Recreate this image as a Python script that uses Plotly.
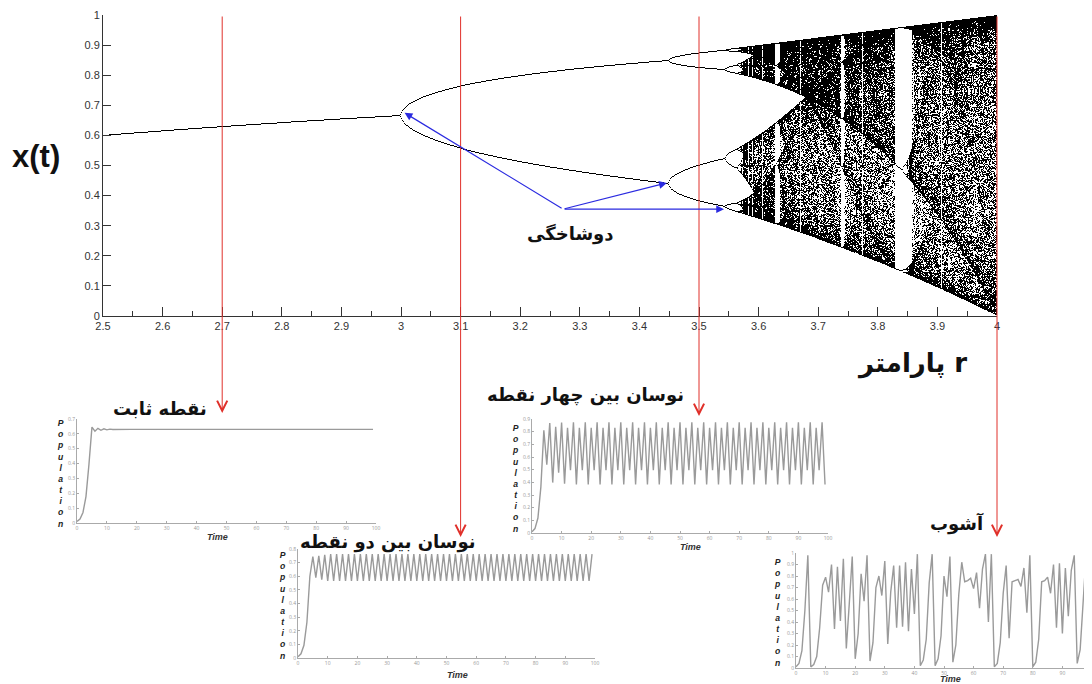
import numpy as np
import plotly.graph_objects as go

# ---------------- data ----------------
# Bifurcation diagram of the logistic map x(t+1) = r x(t) (1 - x(t))
r_min, r_max = 2.5, 4.0
n_r = 900
n_bins = 301
transient_steps = 1000
kept_steps = 320
x_initial = 0.5

main_x_ticks = [2.5, 2.6, 2.7, 2.8, 2.9, 3.0, 3.1, 3.2, 3.3, 3.4, 3.5, 3.6, 3.7, 3.8, 3.9, 4.0]
main_y_ticks = [0, 0.1, 0.2, 0.3, 0.4, 0.5, 0.6, 0.7, 0.8, 0.9, 1.0]

# r values marked with red arrows
marked_r = [2.7, 3.1, 3.5, 4.0]

# Population time series, t = 0..99
fixed_start = [0.01, 0.027, 0.071, 0.178, 0.395, 0.645, 0.618, 0.637, 0.624, 0.634, 0.627, 0.632, 0.629]
fixed_level = [0.630]

two_start = [0.01, 0.031, 0.093, 0.262, 0.6, 0.744, 0.59, 0.75, 0.575, 0.757]
two_cycle = [0.565, 0.762]

four_start = [0.01, 0.035, 0.118, 0.364, 0.81, 0.54, 0.869, 0.398, 0.838, 0.475, 0.873, 0.39]
four_cycle = [0.830, 0.495, 0.875, 0.383]

chaos_series = [
    0.01, 0.04, 0.15, 0.50, 0.98, 0.01, 0.03, 0.10, 0.35, 0.72,
    0.79, 0.66, 0.90, 0.34, 0.88, 0.41, 0.95, 0.17, 0.56, 0.97,
    0.08, 0.30, 0.82, 0.58, 0.98, 0.06, 0.22, 0.70, 0.80, 0.63,
    0.93, 0.21, 0.66, 0.89, 0.35, 0.89, 0.36, 0.92, 0.32, 0.86,
    0.47, 0.99, 0.02, 0.07, 0.25, 0.74, 0.99, 0.02, 0.08, 0.28,
    0.80, 0.62, 0.97, 0.05, 0.20, 0.64, 0.92, 0.75, 0.76, 0.78,
    0.69, 0.83, 0.52, 0.86, 0.99, 0.40, 0.99, 0.01, 0.04, 0.22,
    0.65, 0.89, 0.26, 0.75, 0.76, 0.77, 0.71, 0.87, 0.48, 0.98,
    0.01, 0.05, 0.25, 0.75, 0.76, 0.79, 0.65, 0.90, 0.35, 0.91,
    0.30, 0.87, 0.45, 0.85, 0.98, 0.04, 0.16, 0.55, 0.98, 0.30,
]

panel_titles = ["نقطه ثابت", "نوسان بین دو نقطه", "نوسان بین چهار نقطه", "آشوب"]
bifurcation_label = "دوشاخگی"
x_title = "پارامتر r"
y_title = "x(t)"

# ---------------- build series ----------------
n_t = 100
t_vals = list(range(n_t))


def extend(start, cycle, n):
    out = list(start)
    i = 0
    while len(out) < n:
        out.append(cycle[i % len(cycle)])
        i += 1
    return out[:n]


ts_fixed = extend(fixed_start, fixed_level, n_t)
ts_two = extend(two_start, two_cycle, n_t)
ts_four = extend(four_start, four_cycle, n_t)
ts_chaos = chaos_series[:n_t]

r_vals = np.linspace(r_min, r_max, n_r)
xs = np.full(n_r, x_initial)
for _ in range(transient_steps):
    xs = r_vals * xs * (1 - xs)
counts = np.zeros((n_bins, n_r))
cols = np.arange(n_r)
for _ in range(kept_steps):
    xs = r_vals * xs * (1 - xs)
    rows = np.clip(np.round(xs * (n_bins - 1)).astype(int), 0, n_bins - 1)
    counts[rows, cols] = 1
y_bins = np.linspace(0, 1, n_bins)

# ---------------- figure ----------------
OFF = 8  # page body margin in the browser
W, H = 1092 - OFF, 684 - OFF


def px(x):
    return (x - OFF) / W


def py(y):
    return 1 - (y - OFF) / H


fig = go.Figure()

fig.add_trace(go.Heatmap(
    x=r_vals, y=y_bins, z=counts, zmin=0, zmax=1,
    colorscale=[[0, "rgba(255,255,255,0)"], [1, "rgb(0,0,0)"]],
    showscale=False, hoverinfo="skip", xaxis="x", yaxis="y",
))

series = [ts_fixed, ts_two, ts_four, ts_chaos]
for i, s in enumerate(series):
    fig.add_trace(go.Scatter(
        x=t_vals, y=s, mode="lines",
        line=dict(color="#9a9a9a", width=1.4),
        xaxis=f"x{i + 2}", yaxis=f"y{i + 2}", hoverinfo="skip",
    ))

axis_common = dict(showgrid=False, zeroline=False, showline=True, automargin=False)

layout = dict(
    template="none",
    width=W, height=H, autosize=False,
    margin=dict(l=0, r=0, t=0, b=0, pad=0),
    paper_bgcolor="white", plot_bgcolor="rgba(0,0,0,0)",
    showlegend=False,
    xaxis=dict(
        domain=[px(103), px(997)], range=[r_min, r_max], anchor="y",
        tickvals=main_x_ticks, ticks="inside", ticklen=9, tickcolor="#333",
        linecolor="#333", linewidth=1,
        minor=dict(dtick=0.05, ticks="inside", ticklen=5, tickcolor="#333", showgrid=False),
        tickfont=dict(family="Liberation Sans, Arial", size=11, color="#333"),
        **axis_common,
    ),
    yaxis=dict(
        domain=[py(316), py(15)], range=[0, 1], anchor="x",
        tickvals=main_y_ticks, ticks="inside", ticklen=8, tickcolor="#333",
        linecolor="#333", linewidth=1,
        tickfont=dict(family="Liberation Sans, Arial", size=11, color="#333"),
        **axis_common,
    ),
)

panels = [
    # (left, right, top, bottom, ymax)
    (77, 376, 419, 523, 0.7),
    (298, 595, 549, 658, 0.8),
    (532, 828, 419, 533, 0.9),
    (796, 1092, 553, 668, 1.0),
]
for i, (l, r, t, b, ymax) in enumerate(panels):
    k = i + 2
    layout[f"xaxis{k}"] = dict(
        domain=[px(l), min(px(r), 1.0)], range=[0, 100], anchor=f"y{k}",
        tickvals=list(range(0, 101, 10)), ticks="inside", ticklen=2,
        tickcolor="#aaa", linecolor="#aaa", linewidth=1,
        tickfont=dict(size=5, color="#999"), **axis_common,
    )
    layout[f"yaxis{k}"] = dict(
        domain=[py(b), py(t)], range=[0, ymax], anchor=f"x{k}",
        tickvals=[round(v * 0.1, 1) for v in range(int(round(ymax * 10)) + 1)],
        ticks="inside", ticklen=2,
        tickcolor="#aaa", linecolor="#aaa", linewidth=1,
        tickfont=dict(size=5, color="#999"), **axis_common,
    )

fig.update_layout(**layout)

annotations = []


def label(text, x, y, size, family, color="#111"):
    return dict(
        text=text, x=px(x), y=py(y), xref="paper", yref="paper",
        xanchor="center", yanchor="middle", showarrow=False,
        font=dict(family=family, size=size, color=color),
    )


# Axis titles
annotations.append(label(f"<b>{y_title}</b>", 36, 156, 31, "Liberation Sans, Arial"))
annotations.append(label(f"<b>{x_title}</b>", 912, 363, 26, "DejaVu Sans"))
annotations.append(label(f"<b>{bifurcation_label}</b>", 570, 234, 18, "DejaVu Sans"))

# Panel titles
title_pos = [(160, 408), (388, 542), (585, 395), (957, 523)]
for txt, (tx, ty) in zip(panel_titles, title_pos):
    annotations.append(label(f"<b>{txt}</b>", tx, ty, 18, "DejaVu Sans"))

# Stacked "Population" labels and "Time" labels
pop_x = [60, 282, 515, 777]
time_pos = [(217, 537), (457, 675), (690, 547), (950, 679)]
for i, (l, r, t, b, ymax) in enumerate(panels):
    stacked = "<br>".join(f"<b><i>{c}</i></b>" for c in "Population")
    annotations.append(label(stacked, pop_x[i], (t + b) / 2 + 2, 8.6,
                             "Liberation Sans, Arial", "#222"))
    annotations.append(label("<b><i>Time</i></b>", time_pos[i][0], time_pos[i][1], 9,
                             "Liberation Sans, Arial", "#333"))

# Red arrows from the diagram to the panels
tips = [413, 537, 416, 537]
for rv, tip in zip(marked_r, tips):
    annotations.append(dict(
        text="", x=rv, y=py(tip), xref="x", yref="paper",
        showarrow=True, ax=0, ay=-(tip - 15), axref="pixel", ayref="pixel",
        arrowhead=5, arrowsize=2.0, arrowwidth=1, arrowcolor="#e0302a", standoff=0,
    ))

# Blue arrows pointing to bifurcation points
tail_r, tail_x = 3.272, 0.355
blue_tips = [(3.006, 0.675), (3.446, 0.442), (3.542, 0.355)]
for br, bx in blue_tips:
    annotations.append(dict(
        text="", x=br, y=bx, xref="x", yref="y",
        ax=tail_r, ay=tail_x, axref="x", ayref="y",
        showarrow=True, arrowhead=2, arrowsize=1.3, arrowwidth=1.2,
        arrowcolor="#2a2ae0", standoff=0,
    ))

fig.update_layout(annotations=annotations)

fig.write_html("out.html")
